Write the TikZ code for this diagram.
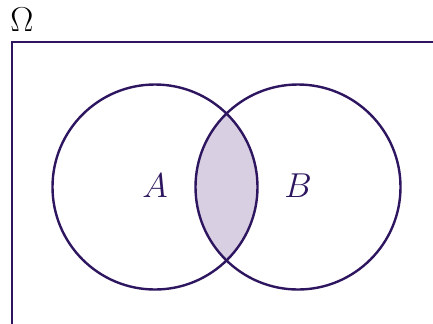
\documentclass[tikz,border=0pt]{standalone}
\usepackage{amsmath,amsfonts}
\usepackage{tikz}
\usetikzlibrary{calc}
\definecolor{setpurple}{RGB}{45,22,95}
\definecolor{setfill}{RGB}{216,208,226}

\begin{document}
\begin{tikzpicture}[
  x=0.5pt, y=-0.5pt,
  setcirc/.style={circle, draw=setpurple, line width=1.2pt, inner sep=0pt, minimum size=102.5pt},
  setlab/.style={text=setpurple, font=\fontsize{16}{18}\selectfont},
  universe/.style={draw=setpurple, line width=1.4pt}
]
\useasboundingbox (0,0) rectangle (433,323);
% intersection
\begin{scope}
  \clip (155,187) circle[radius=102.5];
  \fill[setfill] (298,187) circle[radius=102.5];
\end{scope}
\node[setcirc] (setA) at (155,187) {};
\node[setcirc] (setB) at (298,187) {};
\node[setlab] (labA) at (155,186) {$A$};
\node[setlab] (labB) at (298,186) {$B$};
\coordinate (omegaBL) at (12,330);
\coordinate (omegaTL) at (12,42);
\coordinate (omegaTR) at (440,42);
\draw[universe] (omegaBL) -- (omegaTL) -- (omegaTR);
\node[font=\fontsize{16}{18}\selectfont] (omega) at (22,20) {$\Omega$};
\end{tikzpicture}
\end{document}
